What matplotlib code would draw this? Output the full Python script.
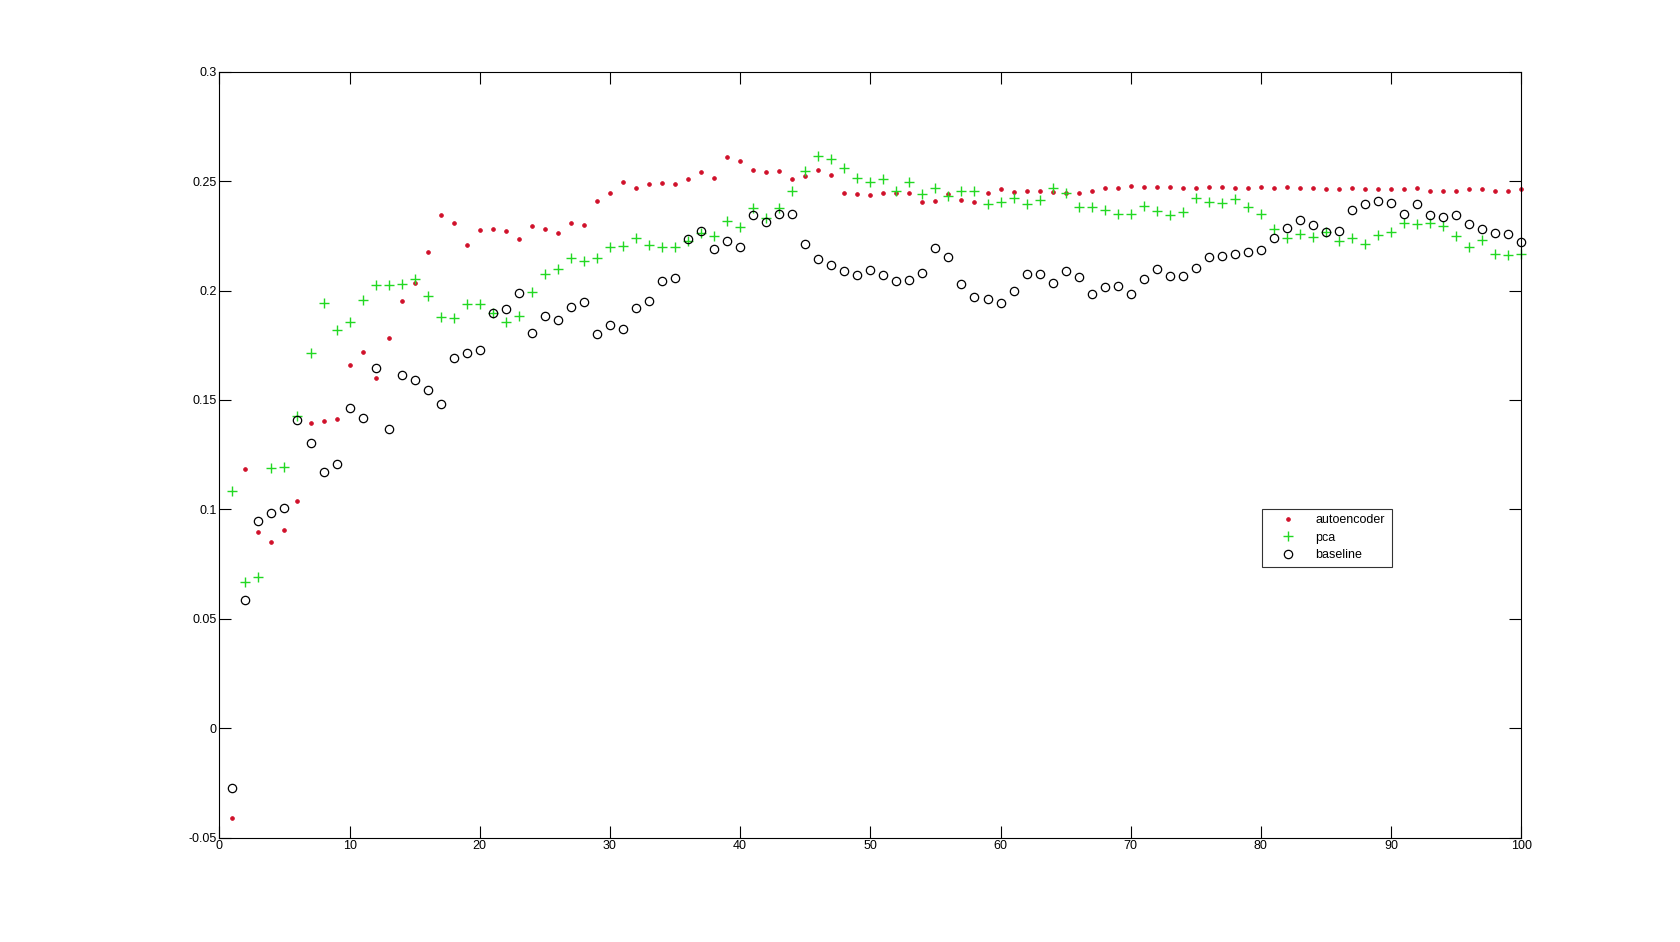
import matplotlib
matplotlib.use("Agg")
import matplotlib.pyplot as plt

plt.rcParams['font.family'] = ['Liberation Sans', 'DejaVu Sans']

x = list(range(1, 101))

autoencoder = [
    -0.0411, 0.1184, 0.0898, 0.0851, 0.0908, 0.1040, 0.1397, 0.1403, 0.1414, 0.1659,
    0.1718, 0.1600, 0.1782, 0.1951, 0.2033, 0.2174, 0.2343, 0.2307, 0.2206, 0.2276,
    0.2279, 0.2272, 0.2234, 0.2293, 0.2279, 0.2263, 0.2307, 0.2298, 0.2407, 0.2444,
    0.2495, 0.2467, 0.2485, 0.2492, 0.2489, 0.2508, 0.2540, 0.2512, 0.2610, 0.2594,
    0.2549, 0.2540, 0.2544, 0.2508, 0.2523, 0.2553, 0.2530, 0.2444, 0.2439, 0.2436,
    0.2448, 0.2448, 0.2444, 0.2404, 0.2407, 0.2439, 0.2412, 0.2404, 0.2444, 0.2462,
    0.2450, 0.2453, 0.2457, 0.2450, 0.2448, 0.2444, 0.2457, 0.2467, 0.2467, 0.2476,
    0.2471, 0.2471, 0.2471, 0.2467, 0.2467, 0.2471, 0.2471, 0.2467, 0.2467, 0.2471,
    0.2467, 0.2471, 0.2467, 0.2467, 0.2462, 0.2462, 0.2467, 0.2462, 0.2462, 0.2462,
    0.2462, 0.2467, 0.2457, 0.2457, 0.2457, 0.2462, 0.2462, 0.2457, 0.2457, 0.2462,
]

pca = [
    0.1085, 0.0667, 0.0693, 0.1189, 0.1192, 0.1425, 0.1714, 0.1943, 0.1822, 0.1855,
    0.1955, 0.2025, 0.2025, 0.2032, 0.2051, 0.1974, 0.1880, 0.1873, 0.1939, 0.1939,
    0.1896, 0.1858, 0.1884, 0.1995, 0.2074, 0.2097, 0.2147, 0.2133, 0.2147, 0.2199,
    0.2202, 0.2240, 0.2206, 0.2199, 0.2199, 0.2226, 0.2264, 0.2248, 0.2316, 0.2292,
    0.2378, 0.2333, 0.2378, 0.2453, 0.2546, 0.2614, 0.2599, 0.2558, 0.2512, 0.2498,
    0.2508, 0.2454, 0.2495, 0.2441, 0.2467, 0.2432, 0.2457, 0.2457, 0.2397, 0.2404,
    0.2425, 0.2394, 0.2416, 0.2470, 0.2445, 0.2380, 0.2384, 0.2368, 0.2351, 0.2351,
    0.2387, 0.2363, 0.2343, 0.2359, 0.2421, 0.2406, 0.2400, 0.2418, 0.2380, 0.2348,
    0.2281, 0.2240, 0.2257, 0.2245, 0.2267, 0.2225, 0.2238, 0.2211, 0.2252, 0.2266,
    0.2308, 0.2302, 0.2308, 0.2296, 0.2251, 0.2199, 0.2229, 0.2167, 0.2164, 0.2167,
]

baseline = [
    -0.0274, 0.0587, 0.0949, 0.0984, 0.1006, 0.1408, 0.1303, 0.1172, 0.1207, 0.1463,
    0.1417, 0.1648, 0.1367, 0.1613, 0.1590, 0.1545, 0.1480, 0.1691, 0.1715, 0.1727,
    0.1896, 0.1914, 0.1987, 0.1805, 0.1882, 0.1864, 0.1924, 0.1946, 0.1802, 0.1841,
    0.1823, 0.1920, 0.1951, 0.2042, 0.2056, 0.2235, 0.2272, 0.2190, 0.2225, 0.2197,
    0.2345, 0.2311, 0.2349, 0.2352, 0.2211, 0.2143, 0.2115, 0.2088, 0.2070, 0.2092,
    0.2070, 0.2042, 0.2047, 0.2079, 0.2193, 0.2152, 0.2028, 0.1969, 0.1960, 0.1942,
    0.1997, 0.2074, 0.2074, 0.2033, 0.2088, 0.2062, 0.1984, 0.2015, 0.2021, 0.1983,
    0.2053, 0.2097, 0.2065, 0.2065, 0.2103, 0.2153, 0.2156, 0.2168, 0.2174, 0.2184,
    0.2240, 0.2284, 0.2321, 0.2298, 0.2267, 0.2272, 0.2366, 0.2397, 0.2407, 0.2400,
    0.2349, 0.2397, 0.2346, 0.2334, 0.2343, 0.2302, 0.2279, 0.2261, 0.2257, 0.2222,
]

fig = plt.figure(figsize=(16.81, 9.42), dpi=100)
ax = fig.add_axes([0.1305, 0.1107, 0.7745, 0.8132])

ax.plot(x, autoencoder, '.', color='#d0102a', markersize=5.5, markeredgewidth=0.5,
        label='autoencoder', clip_on=False)
ax.plot(x, pca, '+', color='#22d822', markersize=6.5, markeredgewidth=1.0,
        label='pca', clip_on=False)
ax.plot(x, baseline, 'o', markerfacecolor='none', markeredgecolor='black',
        markersize=6, markeredgewidth=0.9, label='baseline', clip_on=False)

ax.set_xlim(0, 100)
ax.set_ylim(-0.05, 0.3)
ax.set_xticks(range(0, 101, 10))
ax.set_yticks([-0.05, 0, 0.05, 0.1, 0.15, 0.2, 0.25, 0.3])
ax.set_yticklabels(['-0.05', '0', '0.05', '0.1', '0.15', '0.2', '0.25', '0.3'])
ax.tick_params(direction='in', length=8.5, width=0.8, top=True, right=True,
               labelsize=9, pad=2)
for s in ax.spines.values():
    s.set_linewidth(0.8)

leg = ax.legend(loc='lower left', bbox_to_anchor=(0.801, 0.354, 0.0995, 0.078),
                mode='expand', fontsize=9, frameon=True, fancybox=False,
                edgecolor='black', borderpad=0.45, handletextpad=0.5,
                labelspacing=0.42, handlelength=3.3, borderaxespad=0)
leg.get_frame().set_linewidth(0.8)

fig.savefig('out.png', dpi=100)
